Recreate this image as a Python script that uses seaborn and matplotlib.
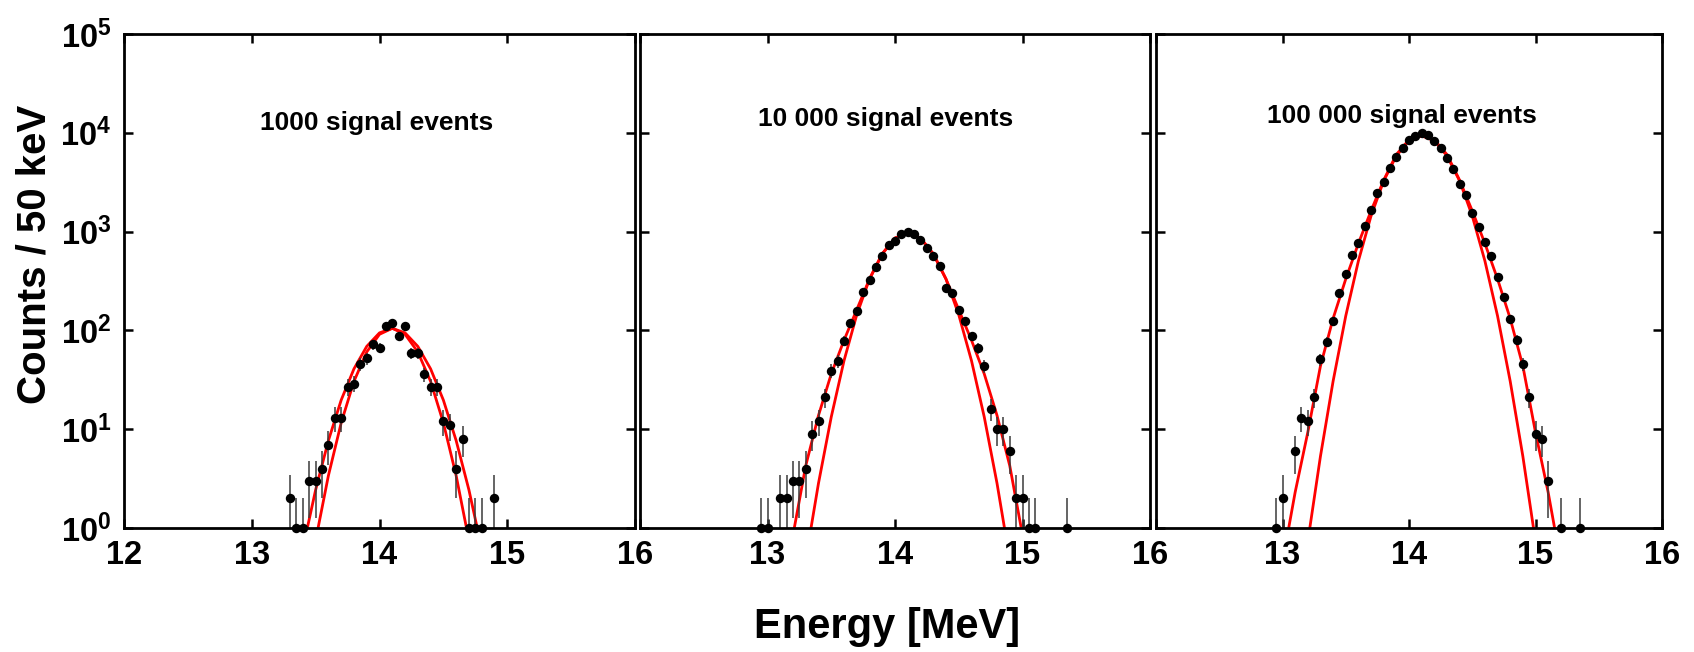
import numpy as np
import pandas as pd
import matplotlib
matplotlib.use("Agg")
import matplotlib.pyplot as plt
import seaborn as sns
from matplotlib.ticker import FixedLocator, FixedFormatter, NullLocator

# ---------------- data ----------------
titles = ["1000 signal events", "10 000 signal events", "100 000 signal events"]

energy_1 = [13.30, 13.35, 13.40, 13.45, 13.50, 13.55, 13.60, 13.65, 13.70, 13.75,
            13.80, 13.85, 13.90, 13.95, 14.00, 14.05, 14.10, 14.15, 14.20, 14.25,
            14.30, 14.35, 14.40, 14.45, 14.50, 14.55, 14.60, 14.65, 14.70, 14.75,
            14.80, 14.90]
counts_1 = [2, 1, 1, 3, 3, 4, 7, 13, 13, 27,
            29, 46, 52, 72, 67, 111, 118, 87, 111, 59,
            59, 36, 27, 27, 12, 11, 4, 8, 1, 1,
            1, 2]

energy_2 = [12.95, 13.00, 13.10, 13.15, 13.20, 13.25, 13.30, 13.35, 13.40, 13.45,
            13.50, 13.55, 13.60, 13.65, 13.70, 13.75, 13.80, 13.85, 13.90, 13.95,
            14.00, 14.05, 14.10, 14.15, 14.20, 14.25, 14.30, 14.35, 14.40, 14.45,
            14.50, 14.55, 14.60, 14.65, 14.70, 14.75, 14.80, 14.85, 14.90, 14.95,
            15.00, 15.05, 15.10, 15.35]
counts_2 = [1, 1, 2, 2, 3, 3, 4, 9, 12, 21,
            39, 49, 78, 118, 156, 243, 321, 438, 571, 726,
            797, 946, 991, 938, 816, 683, 562, 449, 271, 241,
            161, 124, 87, 66, 44, 16, 10, 10, 6, 2,
            2, 1, 1, 1]

energy_3 = [12.95, 13.00, 13.10, 13.15, 13.20, 13.25, 13.30, 13.35, 13.40, 13.45,
            13.50, 13.55, 13.60, 13.65, 13.70, 13.75, 13.80, 13.85, 13.90, 13.95,
            14.00, 14.05, 14.10, 14.15, 14.20, 14.25, 14.30, 14.35, 14.40, 14.45,
            14.50, 14.55, 14.60, 14.65, 14.70, 14.75, 14.80, 14.85, 14.90, 14.95,
            15.00, 15.05, 15.10, 15.20, 15.35]
counts_3 = [1, 2, 6, 13, 12, 21, 51, 77, 125, 240,
            369, 581, 769, 1146, 1655, 2448, 3194, 4436, 5700, 6985,
            8490, 9250, 9930, 9470, 8225, 7035, 5610, 4300, 3020, 2370,
            1555, 1120, 782, 572, 344, 217, 129, 80, 46, 21,
            9, 8, 3, 1, 1]

# red model curves (wide and narrow), values read at 0.1 MeV steps
curve_e_1 = [13.4, 13.5, 13.6, 13.7, 13.8, 13.9, 14.0, 14.1, 14.2, 14.3, 14.4, 14.5, 14.6, 14.7, 14.8]
wide_1 = [0.62, 2.43, 7.67, 19.7, 40.8, 68.9, 94.4, 105, 94.4, 68.9, 40.8, 19.7, 7.67, 2.43, 0.62]
narrow_1 = [0.2, 0.75, 3.39, 11.6, 30.5, 60.5, 91.3, 105, 91.3, 60.5, 30.5, 11.6, 3.39, 0.75, 0.2]

curve_e_2 = [13.2, 13.3, 13.4, 13.5, 13.6, 13.7, 13.8, 13.9, 14.0, 14.1,
             14.2, 14.3, 14.4, 14.5, 14.6, 14.7, 14.8, 14.9, 15.0]
wide_2 = [0.85, 4.27, 13.8, 36.3, 79.4, 162, 331, 596, 861, 966,
          861, 596, 331, 162, 79.4, 36.3, 13.8, 4.27, 0.85]
narrow_2 = [0.05, 0.48, 2.84, 13.3, 49.3, 144, 331, 596, 857, 966,
            857, 596, 331, 144, 49.3, 13.3, 2.84, 0.48, 0.05]

curve_e_3 = [13.0, 13.1, 13.2, 13.3, 13.4, 13.5, 13.6, 13.7, 13.8, 13.9, 14.0, 14.1,
             14.2, 14.3, 14.4, 14.5, 14.6, 14.7, 14.8, 14.9, 15.0, 15.1, 15.2]
wide_3 = [0.45, 2.3, 9.3, 43.6, 132, 331, 759, 1622, 3311, 6026, 8511, 9333,
          8511, 6026, 3311, 1622, 759, 331, 132, 43.6, 9.3, 2.3, 0.45]
narrow_3 = [0.02, 0.1, 0.73, 5.32, 30.6, 140, 505, 1442, 3266, 5848, 8299, 9333,
            8299, 5848, 3266, 1442, 505, 140, 30.6, 5.32, 0.73, 0.1, 0.02]

x_ticks = [12, 13, 14, 15, 16]
x_tick_labels_first = ["12", "13", "14", "15", "16"]
x_tick_labels_rest = ["", "13", "14", "15", "16"]
y_ticks = [1, 10, 100, 1000, 10000, 100000]
y_tick_labels = [r"$\mathbf{10^{0}}$", r"$\mathbf{10^{1}}$", r"$\mathbf{10^{2}}$",
                 r"$\mathbf{10^{3}}$", r"$\mathbf{10^{4}}$", r"$\mathbf{10^{5}}$"]

# ---------------- style ----------------
sns.set_style("white")
plt.rcParams["font.family"] = ["Liberation Sans", "DejaVu Sans"]
plt.rcParams["font.weight"] = "bold"
plt.rcParams["text.color"] = "black"
plt.rcParams["axes.labelcolor"] = "black"
plt.rcParams["xtick.color"] = "black"
plt.rcParams["ytick.color"] = "black"
plt.rcParams["mathtext.fontset"] = "custom"
plt.rcParams["mathtext.rm"] = "Liberation Sans:bold"
plt.rcParams["mathtext.bf"] = "Liberation Sans:bold"
plt.rcParams["mathtext.it"] = "Liberation Sans:bold"

W, H = 1694, 652
fig = plt.figure(figsize=(W / 100, H / 100), dpi=100)

panel_px = [(124, 635), (640, 1150), (1156, 1662)]
top_px, bottom_px = 34, 528
title_pos = [(0.495, 0.820), (0.482, 0.828), (0.487, 0.834)]

datasets = [
    (energy_1, counts_1, curve_e_1, wide_1, narrow_1),
    (energy_2, counts_2, curve_e_2, wide_2, narrow_2),
    (energy_3, counts_3, curve_e_3, wide_3, narrow_3),
]

for i, ((l, r), (e, c, ce, cw, cn)) in enumerate(zip(panel_px, datasets)):
    ax = fig.add_axes([l / W, 1 - bottom_px / H, (r - l) / W, (bottom_px - top_px) / H])
    ax.set_yscale("log")
    ax.set_xlim(12, 16)
    ax.set_ylim(1, 1e5)

    dfc = pd.DataFrame({"E": ce, "wide": cw, "narrow": cn})
    sns.lineplot(data=dfc, x="E", y="wide", ax=ax, color="#ff0000", lw=2.0,
                 estimator=None, sort=False, zorder=2)
    sns.lineplot(data=dfc, x="E", y="narrow", ax=ax, color="#ff0000", lw=2.0,
                 estimator=None, sort=False, zorder=2)

    e_arr = np.asarray(e, dtype=float)
    c_arr = np.asarray(c, dtype=float)
    err = np.sqrt(c_arr)
    lower = np.maximum(c_arr - err, 0.3)
    ax.vlines(e_arr, lower, c_arr + err, color="#3a3a3a", lw=1.1, zorder=2.5)

    dfp = pd.DataFrame({"E": e, "N": c})
    sns.scatterplot(data=dfp, x="E", y="N", ax=ax, color="black", s=46,
                    linewidth=0, zorder=3)
    ax.collections[-1].set_clip_on(False)

    ax.xaxis.set_major_locator(FixedLocator(x_ticks))
    ax.xaxis.set_major_formatter(FixedFormatter(x_tick_labels_first if i == 0 else x_tick_labels_rest))
    ax.yaxis.set_major_locator(FixedLocator(y_ticks))
    ax.yaxis.set_minor_locator(NullLocator())
    ax.xaxis.set_minor_locator(NullLocator())
    if i == 0:
        ax.yaxis.set_major_formatter(FixedFormatter(y_tick_labels))
    else:
        ax.yaxis.set_major_formatter(FixedFormatter([""] * len(y_ticks)))

    ax.tick_params(axis="both", which="major", direction="in", length=6.5, width=1.8,
                   top=True, right=True, bottom=True, left=True, labelsize=23.5,
                   colors="black", labelcolor="black")
    ax.tick_params(axis="x", pad=9)
    ax.tick_params(axis="y", pad=9)
    for lab in ax.get_xticklabels() + ax.get_yticklabels():
        lab.set_fontweight("bold")
    for sp in ax.spines.values():
        sp.set_visible(True)
        sp.set_linewidth(2.0)
        sp.set_color("black")

    ax.set_xlabel("")
    ax.set_ylabel("")
    ax.text(title_pos[i][0], title_pos[i][1], titles[i], transform=ax.transAxes,
            ha="center", va="center", fontsize=19, fontweight="bold", color="black")

fig.text(887 / W, 1 - 627 / H, "Energy [MeV]", ha="center", va="center",
         fontsize=30, fontweight="bold", color="black")
fig.text(34 / W, 1 - 254 / H, "Counts / 50 keV", ha="center", va="center",
         rotation=90, fontsize=29, fontweight="bold", color="black")

fig.savefig("out.png", dpi=100, facecolor="white")
